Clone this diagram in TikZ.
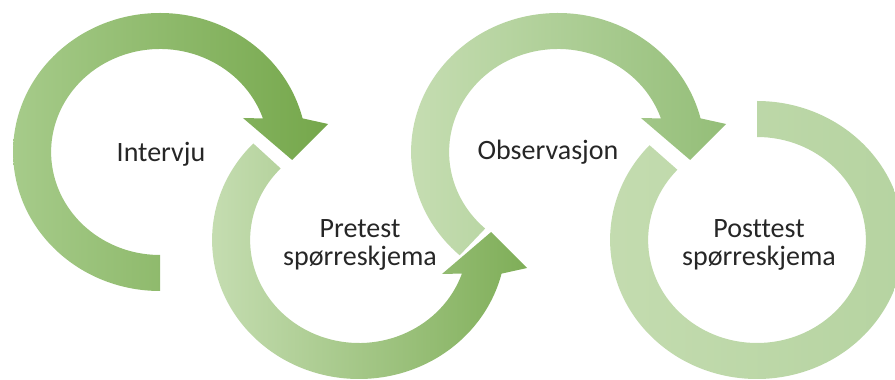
\documentclass[tikz,border=0pt]{standalone}
\usepackage{fontspec}
\setmainfont{Carlito}[Ligatures=NoCommon]
\usetikzlibrary{calc}
\definecolor{intlight}{RGB}{166,203,138}
\definecolor{intdark}{RGB}{117,167,75}
\definecolor{prelight}{RGB}{200,223,181}
\definecolor{predark}{RGB}{127,174,88}
\definecolor{obslight}{RGB}{200,223,181}
\definecolor{obsdark}{RGB}{148,190,120}
\definecolor{postlight}{RGB}{196,220,176}
\definecolor{postdark}{RGB}{181,211,160}
\definecolor{captext}{RGB}{38,38,38}

\begin{document}
\begin{tikzpicture}[x=1pt,y=1pt,
    cycletext/.style={font=\fontsize{28}{28}\selectfont, text=captext, align=center, inner sep=0pt}]
        \clip (0,0) rectangle (895,380);
        % Intervju
        \begin{scope}[shift={(160,228)},xscale=1.057]
            \shade[left color=intlight, right color=intdark]
                (270:139) arc[start angle=270, end angle=14, radius=139]
                -- (159,28) -- (125,-8) -- (78.5,34)
                -- (19:103) arc[start angle=19, end angle=270, radius=103] -- cycle;
        \end{scope}
        % Pretest
        \begin{scope}[shift={(359,140)},xscale=1.057]
            \shade[left color=prelight, right color=predark]
                (136:139) arc[start angle=136, end angle=346, radius=139]
                -- (159,-28) -- (125,8) -- (78.5,-34)
                -- (341:103) arc[start angle=341, end angle=136, radius=103] -- cycle;
        \end{scope}
        % Observasjon
        \begin{scope}[shift={(558,228)},xscale=1.057]
            \shade[left color=obslight, right color=obsdark]
                (228:139) arc[start angle=228, end angle=14, radius=139]
                -- (159,28) -- (125,-8) -- (78.5,34)
                -- (19:103) arc[start angle=19, end angle=228, radius=103] -- cycle;
        \end{scope}
        % Posttest
        \begin{scope}[shift={(757,140)},xscale=1.057]
            \shade[left color=postlight, right color=postdark]
                (137:139) arc[start angle=137, end angle=450, radius=139]
                -- (90:103) arc[start angle=450, end angle=137, radius=103] -- cycle;
        \end{scope}

        \node[cycletext, anchor=base] (intervju) at (161,218) {Intervju};
        \node[cycletext] (pretest) at (360,135) {Pretest\\spørreskjema};
        \node[cycletext, anchor=base] (observasjon) at (548,220) {Observasjon};
        \node[cycletext] (posttest) at (759,135) {Posttest\\spørreskjema};
    \end{tikzpicture}
\end{document}
